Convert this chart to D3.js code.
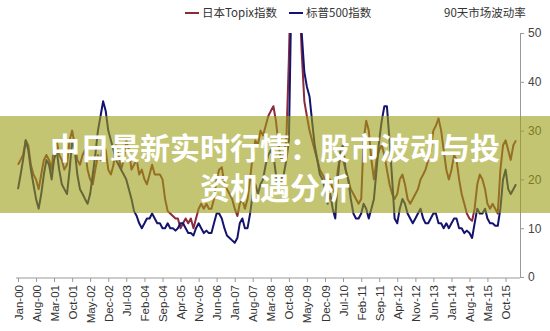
<!DOCTYPE html>
<html><head><meta charset="utf-8">
<script src="https://cdn.jsdelivr.net/npm/d3@7"></script>
<style>html,body{margin:0;padding:0;background:#fff;}svg{display:block;}</style>
</head><body>
<script>
// ---- data (90-day volatility, monthly samples from Jan-2000) ----
const startYear = 2000, startMonth = 0;
const topix = [
 23,24,25,28,27,23,21,20,18,21,24,25,
 24,22,27,28,25,24,22,23,28,30,27,24,
 23,25,26,22,20,19,22,25,24,27,26,22,
 21,23,27,25,22,24,28,26,22,23,24,21,
 22,20,19,21,23,21,21,21,20,16,13.5,13,
 12.5,12,12,10,11,12,11,12,10,12,14,15,
 14,15,14,14,16,20,22,22.5,19,18,17,16,
 14,12.5,15,16,14,16,20,25,28,27,30,29,
 31,33,34,35,32,27,24,25,28,45,68,75,
 70,58,46,36,33,30,28,26,24,22,21,20,
 19,20,18,17,22,25,24,22,20,18,17,16,
 15,16,28,32,30,24,20,24,26,27,25,22,
 19,17,16,17,20,21,19,16,15,16,17,18,
 20,21,22,24,26,30,31,32.5,30,26,22,20,
 22,25,24,20,17,15,13,12,11.5,14,19,21,
 20,18,15,14,15,14,13,22,27,28,26,24,
 27,28
];
const sp500 = [
 18,21,24,28,26,22,19,16,14,17,21,24,
 23,20,24,26,22,19,18,17,22,28,26,21,
 18,17,16,15,17,21,25,30,33,36,34,30,
 28,26,24,23,22,21,20,18,16,13.5,12.5,11,
 10,11,12,12,13,12,11,11,10,10,11,10,
 10,9.5,10,11,11,10,9,9,8.5,10,11,10,
 9,9.5,9,9,11,13,13,12,10,8.5,8,7.5,
 7,8,11,12,10,10,13,17,19,17,19,20,
 23,25,26,25,21,18,20,21,24,28,60,68,
 65,58,50,42,39,37,32,27,24,21,20,18,
 15,17,14,12,20,26,27,22,20,16,13,12,
 12,13,15,14,12,14,16,22,28,32,35,35,
 28,20,12,11,14,16,15,13,12,11,12,13,
 14,12,11,11,12,13,13,11,11,10,11,10,
 11,12,12,10,10,9,9.5,9,8,11,14,13,
 13,14,12,11,11,10.5,10.5,14,20,22,18,17,
 18,19
];
const yTicks = [0,10,20,30,40,50];
const xTickLabels = ["Jan-00","Aug-00","Mar-01","Oct-01","May-02","Dec-02","Jul-03","Feb-04","Sep-04","Apr-05","Nov-05","Jun-06","Jan-07","Aug-07","Mar-08","Oct-08","May-09","Dec-09","Jul-10","Feb-11","Sep-11","Apr-12","Nov-12","Jun-13","Jan-14","Aug-14","Mar-15","Oct-15"];
const seriesNames = ["日本Topix指数","标普500指数"];
const chartTitle = "90天市场波动率";
const bannerLines = ["中日最新实时行情：股市波动与投","资机遇分析"];

// ---- layout ----
const W = 550, H = 331;
const svg = d3.select("body").append("svg").attr("width", W).attr("height", H);
const monthDate = i => new Date(startYear, startMonth + i, 1);
const parseLbl = s => d3.timeParse("%b-%y")(s);

const x = d3.scaleTime().domain([monthDate(0), monthDate(topix.length - 1)]).range([18, 516]);
const y = d3.scaleLinear().domain([0, 50]).range([277, 33]);

// clip
svg.append("clipPath").attr("id","plot").append("rect")
  .attr("x", 10).attr("y", y(50)).attr("width", 512).attr("height", y(0) - y(50) + 2);

// x axis
const xAxis = d3.axisBottom(x)
  .tickValues(xTickLabels.map(parseLbl))
  .tickFormat(d3.timeFormat("%b-%y"))
  .tickSize(4).tickSizeOuter(0);
const gx = svg.append("g").attr("transform", `translate(0,${y(0)+1})`).call(xAxis);
gx.select(".domain").attr("stroke", "#999").attr("d", `M16,0H520`);
gx.selectAll(".tick line").attr("stroke", "#999");
gx.selectAll(".tick text")
  .attr("font-family", "'Liberation Sans', Arial, sans-serif")
  .attr("font-size", 11.5).attr("fill", "#333")
  .attr("transform", "rotate(-90)")
  .attr("text-anchor", "end").attr("x", -7).attr("y", 0).attr("dy", "0.35em");

// y axis (right)
const yAxis = d3.axisRight(y).tickValues(yTicks).tickSize(4).tickSizeOuter(0).tickPadding(4);
const gy = svg.append("g").attr("transform", "translate(520,0)").call(yAxis);
gy.select(".domain").attr("stroke", "#999");
gy.selectAll(".tick line").attr("stroke", "#999");
gy.selectAll(".tick text")
  .attr("font-family", "'Liberation Sans', Arial, sans-serif")
  .attr("font-size", 12).attr("fill", "#444");

// lines
const line = d3.line().x((d, i) => x(monthDate(i))).y(d => y(d)).curve(d3.curveLinear);
const colors = ["#8a2a3c", "#14146e"];
const gl = svg.append("g").attr("clip-path", "url(#plot)");
gl.append("path").datum(topix).attr("d", line).attr("fill","none")
  .attr("stroke", colors[0]).attr("stroke-width", 2).attr("stroke-linejoin","round");
gl.append("path").datum(sp500).attr("d", line).attr("fill","none")
  .attr("stroke", colors[1]).attr("stroke-width", 2).attr("stroke-linejoin","round");

// legend
const lg = svg.append("g").attr("font-family", "'Noto Sans CJK SC', sans-serif").attr("font-size", 11.5).attr("fill", "#333");
const legendX = [185, 289];
seriesNames.forEach((n, i) => {
  lg.append("line").attr("x1", legendX[i]).attr("x2", legendX[i] + 14).attr("y1", 13).attr("y2", 13)
    .attr("stroke", colors[i]).attr("stroke-width", 2);
  lg.append("text").attr("x", legendX[i] + 17).attr("y", 17).text(n);
});
lg.append("text").attr("x", 444).attr("y", 17).text(chartTitle);

// banner overlay
svg.append("rect").attr("x", 0).attr("y", 116).attr("width", W).attr("height", 97)
  .attr("fill", "rgb(157,158,20)").attr("fill-opacity", 0.6);
const bt = svg.append("g").attr("font-family", "'Noto Sans CJK SC', sans-serif")
  .attr("font-weight", "bold").attr("font-size", 30).attr("fill", "#fff").attr("text-anchor", "middle");
bannerLines.forEach((t, i) => {
  bt.append("text").attr("x", 275).attr("y", 148 + i * 40).attr("dy", "0.36em").text(t);
});
</script>
</body></html>
